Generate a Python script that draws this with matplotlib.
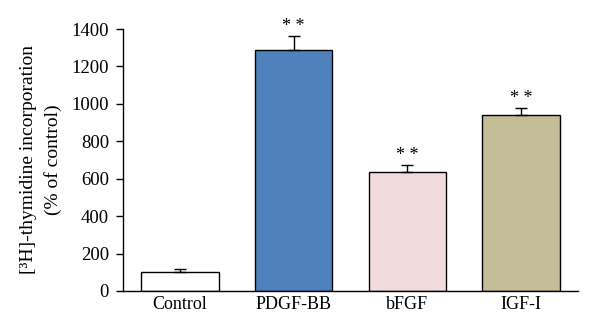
import numpy as np
import matplotlib
matplotlib.use("Agg")
import matplotlib.pyplot as plt

plt.rcParams['font.family'] = ['Liberation Serif', 'DejaVu Serif']

# 数据
groups = ['Control', 'PDGF-BB', 'bFGF', 'IGF-I']
values = [103, 1288, 636, 942]
errors = [14, 75, 37, 34]
colors = ['white', '#4F81BD', '#F2DCDB', '#C4BD97']
marks = ['', '* *', '* *', '* *']

# 画图
fig = plt.figure(figsize=(6.0, 3.34), dpi=100)
ax = fig.add_axes([0.205, 0.129, 0.758, 0.784])

x = np.arange(len(groups))
ax.bar(x, values, width=0.68, color=colors, edgecolor='black', linewidth=1.0,
       yerr=[np.zeros(len(errors)), errors], capsize=4,
       error_kw=dict(ecolor='black', elinewidth=1.0, capthick=1.0))

for xi, v, e, m in zip(x, values, errors, marks):
    if m:
        ax.text(xi, v + e + 5, m, ha='center', va='bottom', fontsize=13)

ax.set_xlim(-0.5, 3.5)
ax.set_ylim(0, 1400)
ax.set_yticks(np.arange(0, 1401, 200))
ax.set_xticks(x)
ax.set_xticklabels(groups, fontsize=13)
ax.tick_params(axis='x', length=0, pad=4)
ax.tick_params(axis='y', direction='out', length=5, width=1, labelsize=13.5, pad=5)

for s in ['top', 'right']:
    ax.spines[s].set_visible(False)
for s in ['left', 'bottom']:
    ax.spines[s].set_linewidth(1.0)

ax.set_ylabel('[³H]-thymidine incorporation\n(% of control)', fontsize=14,
              linespacing=1.5)
ax.yaxis.set_label_coords(-0.135, 0.5)

fig.savefig('out.png', dpi=100)
